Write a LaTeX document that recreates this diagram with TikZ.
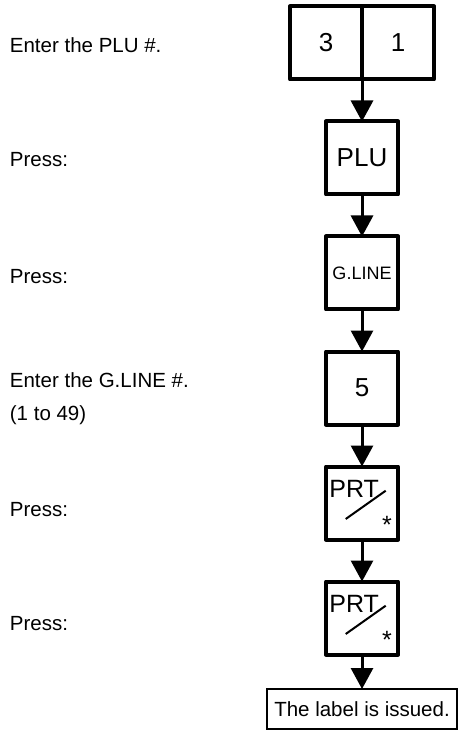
\documentclass[tikz,border=0pt]{standalone}
\usepackage{fontspec}
\setmainfont{Liberation Sans}
\usetikzlibrary{arrows.meta, positioning}

\begin{document}
\begin{tikzpicture}[
    x=0.5pt, y=-0.5pt,
    node distance=21pt,
    key/.style={rectangle, draw, line width=2pt, line join=round, outer sep=0pt, inner sep=0pt, minimum width=36pt, minimum height=36.5pt, font=\fontsize{13}{15}\selectfont},
    keytext/.style={inner sep=0pt, anchor=base west, font=\fontsize{12.5}{15}\selectfont},
    note/.style={inner sep=0pt, anchor=base west, align=left, font=\fontsize{10.25}{16.5}\selectfont},
    result/.style={rectangle, draw, line width=0.6pt, outer sep=0pt, inner sep=0pt, minimum width=95pt, minimum height=20pt, font=\fontsize{10.25}{12}\selectfont},
    arrow/.style={-{Triangle[width=11pt, length=10.5pt]}, line width=1.5pt}
]
\useasboundingbox (0,0) rectangle (459,731);

% keys
\node (d3) [key] at (326,43) {3};
\node (d1) [key, right=0pt of d3] {1};
\node (plu) [key, below=of d3.south east] {PLU};
\node (gline) [key, below=of plu, font=\fontsize{9}{11}\selectfont] {G.LINE};
\node (d5) [key, below=of gline] {5};
\node (prt1) [key, below=of d5] {};
\node (prt2) [key, below=of prt1] {};
\node (issued) [result, below=17.25pt of prt2] {The label is issued.};

% PRT keys
\node (prt1label) [keytext] at ([shift={(-33,-5.5)}]prt1.center) {PRT};
\node (prt1star) [keytext, anchor=base] at ([shift={(25,30.5)}]prt1.center) {*};
\draw [line width=1pt] ([shift={(-16.3,16)}]prt1.center) -- ([shift={(23.7,-12.3)}]prt1.center);
\node (prt2label) [keytext] at ([shift={(-33,-5.5)}]prt2.center) {PRT};
\node (prt2star) [keytext, anchor=base] at ([shift={(25,30.5)}]prt2.center) {*};
\draw [line width=1pt] ([shift={(-16.3,16)}]prt2.center) -- ([shift={(23.7,-12.3)}]prt2.center);

% steps
\node (s1) [note] at (9.5,53) {Enter the PLU \#.};
\node (s2) [note] at (9.5,167) {Press:};
\node (s3) [note] at (9.5,284) {Press:};
\node (s4) [note] at (9.5,420) {Enter the G.LINE \#.\\(1 to 49)};
\node (s5) [note] at (9.5,516) {Press:};
\node (s6) [note] at (9.5,630) {Press:};

\draw [arrow] (d3.south east) -- (plu);
\draw [arrow] (plu) -- (gline);
\draw [arrow] (gline) -- (d5);
\draw [arrow] (d5) -- (prt1);
\draw [arrow] (prt1) -- (prt2);
\draw [arrow] (prt2) -- (issued);

\end{tikzpicture}
\end{document}
